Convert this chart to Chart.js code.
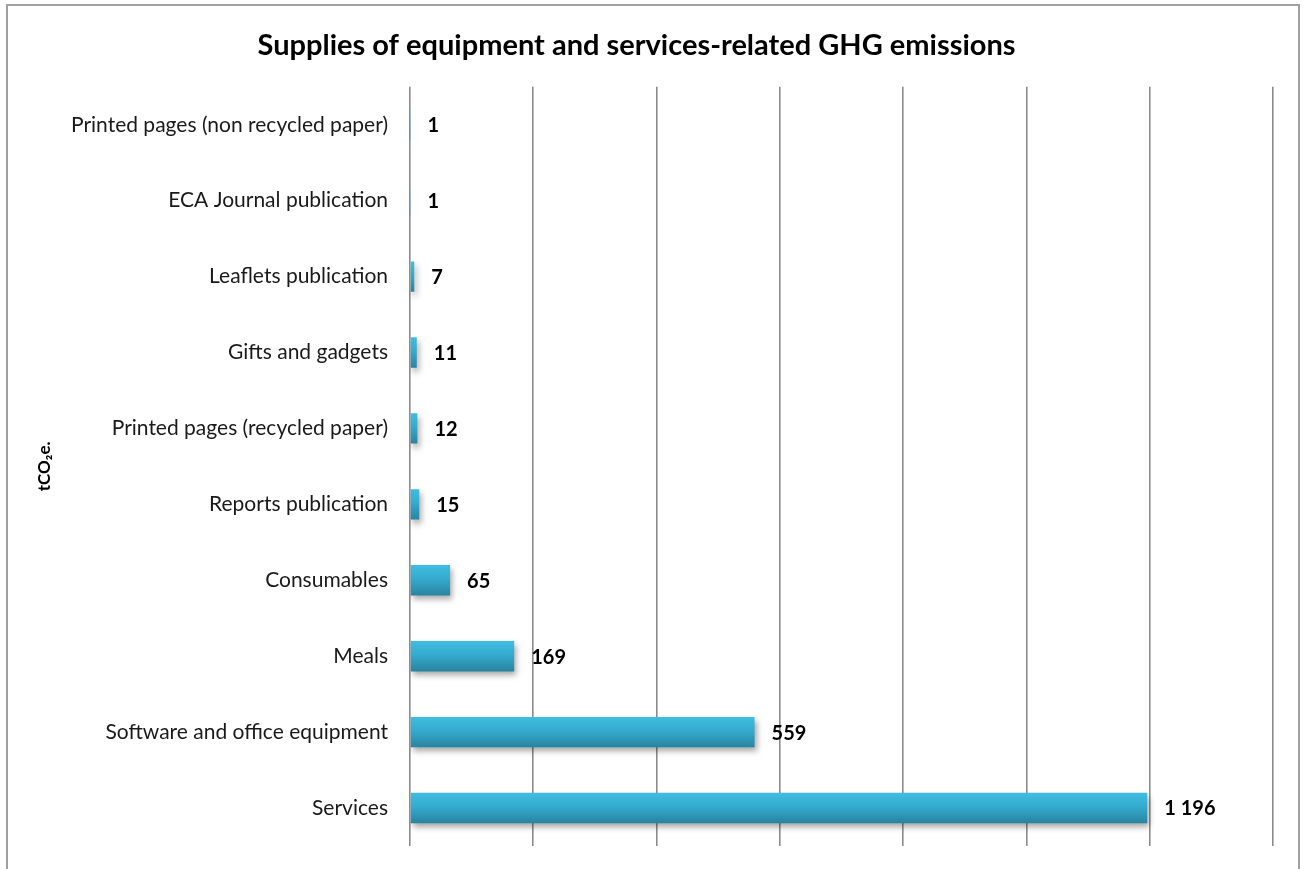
<!DOCTYPE html>
<html>
<head>
<meta charset="utf-8">
<script src="https://cdn.jsdelivr.net/npm/chart.js@4"></script>
<style>
  html, body { margin: 0; padding: 0; background: #fff; overflow: hidden; }
  #frame { position: absolute; left: 6px; top: 4px; width: 1290px; height: 900px; border: 2px solid #a0a0a0; }
  #reportsChart { position: absolute; left: 0; top: 0; }
</style>
</head>
<body>
<div id="frame"></div>
<canvas id="reportsChart" width="1306" height="869"></canvas>
<script>
// categories, top to bottom
const categorias = [
	"Printed pages (non recycled paper)",
	"ECA Journal publication",
	"Leaflets publication",
	"Gifts and gadgets",
	"Printed pages (recycled paper)",
	"Reports publication",
	"Consumables",
	"Meals",
	"Software and office equipment",
	"Services"
];
const emisiones = [1, 1, 7, 11, 12, 15, 65, 169, 559, 1196];
const ejeMax = 1400;
const ejePaso = 200;

const fuente = "Lato, 'Liberation Sans', sans-serif";

function miles(v){
	return String(v).replace(/\B(?=(\d{3})+(?!\d))/g, ' ');
}

// bars fade from light to dark blue top to bottom
function degradado(ctx){
	const chart = ctx.chart;
	const y = chart.scales.y;
	if (!chart.chartArea || !y || ctx.dataIndex === undefined) return "#34a8cc";
	const centro = y.getPixelForValue(ctx.dataIndex);
	const h = 15;
	const g = chart.ctx.createLinearGradient(0, centro - h, 0, centro + h);
	g.addColorStop(0, "#3fbde0");
	g.addColorStop(0.45, "#34abcf");
	g.addColorStop(1, "#2984a0");
	return g;
}

const sombra = {
	id: 'sombra',
	beforeDatasetDraw(chart){
		const c = chart.ctx;
		c.save();
		c.shadowColor = "rgba(0,0,0,0.35)";
		c.shadowBlur = 6;
		c.shadowOffsetX = 2;
		c.shadowOffsetY = 4;
	},
	afterDatasetDraw(chart){
		chart.ctx.restore();
	}
};

const valores = {
	id: 'valores',
	afterDatasetsDraw(chart){
		const c = chart.ctx;
		const meta = chart.getDatasetMeta(0);
		c.save();
		c.font = "bold 20px " + fuente;
		c.fillStyle = "#000";
		c.textAlign = "left";
		c.textBaseline = "middle";
		meta.data.forEach(function(bar, i){
			c.fillText(miles(emisiones[i]), bar.x + 17, bar.y + 1);
		});
		c.restore();
	}
};

new Chart("reportsChart", {
	type: "bar",
	data: {
		labels: categorias,
		datasets: [{
			label: "tCO2e",
			data: emisiones,
			backgroundColor: degradado,
			borderWidth: 0,
			barPercentage: 0.4,
			categoryPercentage: 1
		}]
	},
	plugins: [sombra, valores],
	options: {
		indexAxis: 'y',
		responsive: false,
		animation: false,
		layout: { padding: { left: 0, right: 33, top: 0, bottom: 23 } },
		plugins: {
			legend: { display: false },
			tooltip: { enabled: false },
			title: {
				display: true,
				text: "Supplies of equipment and services-related GHG emissions",
				color: "#000",
				font: { family: fuente, size: 29, weight: "bold", lineHeight: 1.2 },
				padding: { top: 28, bottom: 24 }
			}
		},
		scales: {
			x: {
				min: 0,
				max: ejeMax,
				ticks: { display: false, stepSize: ejePaso },
				grid: { color: "#8c8c8c", lineWidth: 1.6, drawTicks: false },
				border: { display: false },
				afterFit(s){ s.height = 0; }
			},
			y: {
				grid: { display: false },
				border: { display: false },
				ticks: {
					color: "#1a1a1a",
					padding: 14,
					font: { family: fuente, size: 21 }
				},
				title: {
					display: true,
					text: "tCO₂e.",
					color: "#000",
					font: { family: fuente, size: 17, weight: "bold", lineHeight: 1.2 },
					padding: { top: 34, bottom: 0 }
				},
				afterFit(s){
					s.width = 410;
					s.paddingTop = 0;
					s.paddingBottom = 0;
				}
			}
		}
	}
});
</script>
</body>
</html>
